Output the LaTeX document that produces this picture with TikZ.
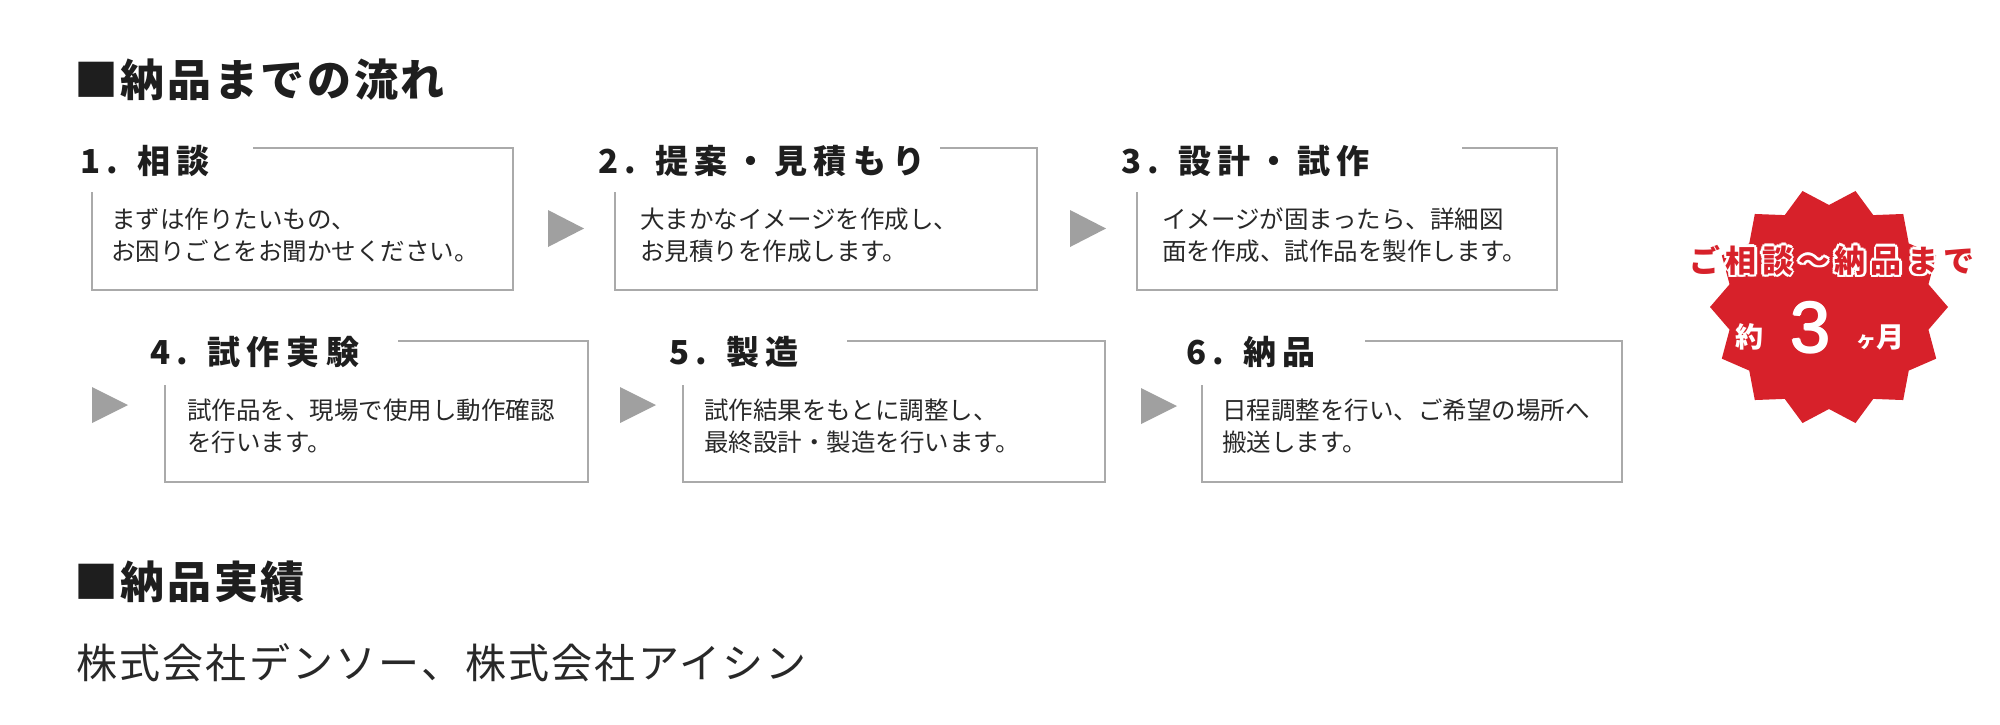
\documentclass[tikz,border=0pt]{standalone}
\usepackage{fontspec}
\setmainfont{Noto Sans CJK JP}
\newfontfamily\jpT{Noto Sans CJK JP}[LetterSpace=6]
\newfontfamily\jpH{Noto Sans CJK JP}[LetterSpace=20]
\newfontfamily\jpS{Noto Sans CJK JP}[LetterSpace=17]
\newfontfamily\jpN{Noto Sans CJK JP}[LetterSpace=5.5]
\newfontfamily\numfont{Liberation Sans}
\definecolor{boxline}{RGB}{170,170,170}
\definecolor{arrowgray}{RGB}{160,160,160}
\definecolor{titlecol}{RGB}{30,30,30}
\definecolor{bodycol}{RGB}{40,40,40}
\definecolor{starred}{RGB}{215,33,42}
\newcommand\ocopy[3]{\rlap{\kern#1\raisebox{#2}{\color{white}#3}}}
\newcommand\outlinedtext[1]{%
  \ocopy{2.6pt}{0pt}{#1}\ocopy{-2.6pt}{0pt}{#1}\ocopy{0pt}{2.6pt}{#1}\ocopy{0pt}{-2.6pt}{#1}%
  \ocopy{1.9pt}{1.9pt}{#1}\ocopy{-1.9pt}{1.9pt}{#1}\ocopy{1.9pt}{-1.9pt}{#1}\ocopy{-1.9pt}{-1.9pt}{#1}%
  #1}
\newcommand\thickened[1]{%
  \ocopy{1pt}{0pt}{#1}\ocopy{-1pt}{0pt}{#1}\ocopy{0pt}{1pt}{#1}\ocopy{0pt}{-1pt}{#1}#1}
\begin{document}
\begin{tikzpicture}[x=1pt,y=-1pt,
  titletext/.style={anchor=west,inner sep=0pt,text=titlecol,font={\jpT\bfseries\fontsize{44}{50}\selectfont}},
  headtext/.style={anchor=west,inner sep=0pt,text=titlecol,font={\jpH\bfseries\fontsize{33}{40}\selectfont}},
  bodytext/.style={anchor=west,inner sep=0pt,text=bodycol,align=left,font={\fontsize{24.5}{32}\selectfont}},
  clienttext/.style={anchor=west,inner sep=0pt,text=bodycol,font={\jpN\fontsize{41}{48}\selectfont}},
  frameline/.style={draw=boxline,line width=1.6pt},
  flowarrow/.style={fill=arrowgray},
  startext/.style={inner sep=0pt,text=white,font={\bfseries\fontsize{28}{30}\selectfont}},
]
\fill[white] (0,0) rectangle (2000,724);
\useasboundingbox (0,0) rectangle (2000,724);

% title
\node[titletext] (title) at (74,80) {■納品までの流れ};

% frames
\draw[frameline] (253,148) -- (513,148) -- (513,290) -- (92,290) -- (92,192);
\draw[frameline] (940,148) -- (1037,148) -- (1037,290) -- (615,290) -- (615,192);
\draw[frameline] (1462,148) -- (1557,148) -- (1557,290) -- (1137,290) -- (1137,192);
\draw[frameline] (398,341) -- (588,341) -- (588,482) -- (165,482) -- (165,385);
\draw[frameline] (847,341) -- (1105,341) -- (1105,482) -- (683,482) -- (683,385);
\draw[frameline] (1365,341) -- (1622,341) -- (1622,482) -- (1202,482) -- (1202,385);

% headings
\node[headtext] (h1) at (80,161) {1. 相談};
\node[headtext] (h2) at (598,161) {2. 提案・見積もり};
\node[headtext] (h3) at (1121,161) {3. 設計・試作};
\node[headtext] (h4) at (150,352) {4. 試作実験};
\node[headtext] (h5) at (669,352) {5. 製造};
\node[headtext] (h6) at (1186,352) {6. 納品};

% body texts
\node[bodytext] (b1) at (111,235) {まずは作りたいもの、\\お困りごとをお聞かせください。};
\node[bodytext] (b2) at (640,235) {大まかなイメージを作成し、\\お見積りを作成します。};
\node[bodytext] (b3) at (1162,235) {イメージが固まったら、詳細図\\面を作成、試作品を製作します。};
\node[bodytext] (b4) at (187,426) {試作品を、現場で使用し動作確認\\を行います。};
\node[bodytext] (b5) at (704,426) {試作結果をもとに調整し、\\最終設計・製造を行います。};
\node[bodytext] (b6) at (1222,426) {日程調整を行い、ご希望の場所へ\\搬送します。};

% arrows
\fill[flowarrow] (548,210) -- (584,228.5) -- (548,247) -- cycle;
\fill[flowarrow] (1070,210) -- (1106,228.5) -- (1070,247) -- cycle;
\fill[flowarrow] (92,387) -- (128,405) -- (92,423) -- cycle;
\fill[flowarrow] (620,387) -- (656,405) -- (620,423) -- cycle;
\fill[flowarrow] (1141,388) -- (1177,406) -- (1141,424) -- cycle;

% star
\fill[starred] plot[samples at={0,...,27}, variable=\k]
  ({1829+(110.5+8.5*cos(\k*180))*cos(\k*180/14)}, {307+(110.5+8.5*cos(\k*180))*sin(\k*180/14)}) -- cycle;
\node[inner sep=0pt,text=starred,font={\jpS\bfseries\fontsize{31}{34}\selectfont}] (starhead) at (1832,260) {\outlinedtext{ご相談〜納品まで}};
\node[startext,anchor=base] (sm1) at (1749,347) {約};
\node[startext,anchor=base,font={\numfont\fontsize{72}{74}\selectfont}] (sm2) at (1811,352) {\thickened{3}};
\node[startext,anchor=base] (sm3) at (1880,347) {{\fontsize{20}{24}\selectfont ヶ}月};

% results
\node[titletext] (title2) at (74,582) {■納品実績};
\node[clienttext] (clients) at (76,663) {株式会社デンソー、株式会社アイシン};
\end{tikzpicture}
\end{document}
